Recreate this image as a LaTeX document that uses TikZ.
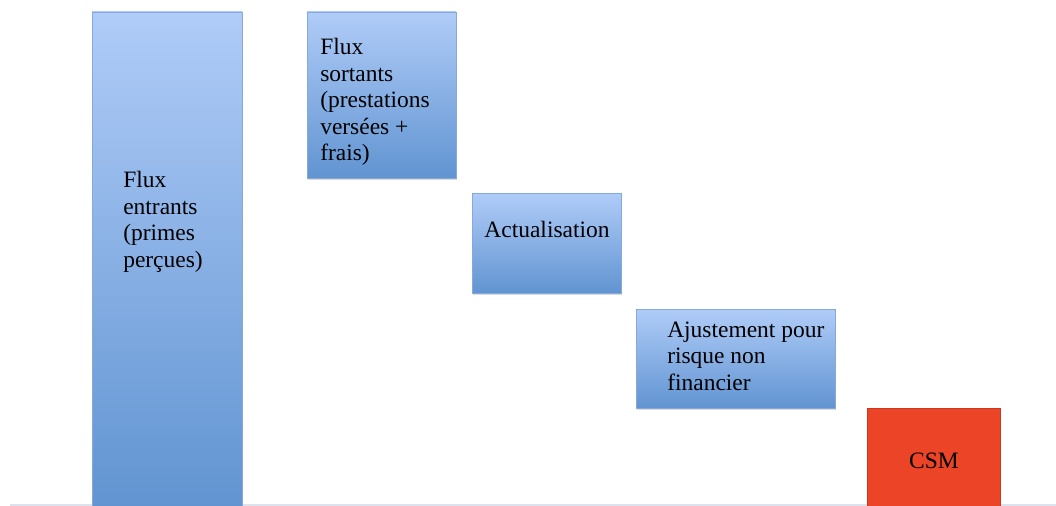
\documentclass[tikz,border=0pt]{standalone}
\usepackage{fontspec}
\setmainfont{Liberation Serif}
\usetikzlibrary{shadows}
\definecolor{barTop}{HTML}{B0CCF8}
\definecolor{barBottom}{HTML}{6194D1}
\definecolor{barEdge}{HTML}{86A9DC}
\definecolor{csmRed}{HTML}{EB4426}
\definecolor{axisGrey}{HTML}{DDE3EC}
\tikzset{
  bar/.style={rectangle, inner sep=0pt, top color=barTop, bottom color=barBottom,
    draw=barEdge, line width=0.5pt,
    drop shadow={opacity=0.28, shadow xshift=0.6pt, shadow yshift=-1.8pt}},
  csmbar/.style={rectangle, inner sep=0pt, fill=csmRed, draw=csmRed!85!black, line width=0.3pt,
    drop shadow={opacity=0.18, shadow xshift=0.6pt, shadow yshift=-1.2pt}},
  label/.style={inner sep=0pt, align=left, font=\fontsize{17.6}{19.9}\selectfont, text=black},
}
\begin{document}
\begin{tikzpicture}[x=0.75pt, y=-0.75pt]
  \useasboundingbox (0,0) rectangle (1056,506);
  % baseline of the chart
  \coordinate (axisL) at (10,505);
  \coordinate (axisR) at (1056,505);
  \draw[axisGrey, line width=1.5pt] (axisL) -- (axisR);

  % bars of the waterfall
  \node[bar, minimum width=112.5pt, minimum height=370.5pt] (inflow) at (167,259) {};
  \node[bar, minimum width=111.75pt, minimum height=124.5pt] (outflow) at (381.5,95) {};
  \node[bar, minimum width=111.75pt, minimum height=75pt] (discount) at (546.5,243) {};
  \node[bar, minimum width=149.25pt, minimum height=74.25pt] (riskadj) at (735.5,358.5) {};
  \node[csmbar, minimum width=99.75pt, minimum height=73.5pt] (csm) at (933.5,457) {};

  % labels
  \node[label, anchor=west] (inflowText) at (123,222) {Flux\\entrants\\(primes\\perçues)};
  \node[label, anchor=west] (outflowText) at (320,102) {Flux\\sortants\\(prestations\\versées +\\frais)};
  \node[label] (discountText) at (547,229) {Actualisation};
  \node[label, anchor=west] (riskadjText) at (667,356) {Ajustement pour\\risque non\\financier};
  \node[label] (csmText) at (934,461) {CSM};
\end{tikzpicture}
\end{document}
